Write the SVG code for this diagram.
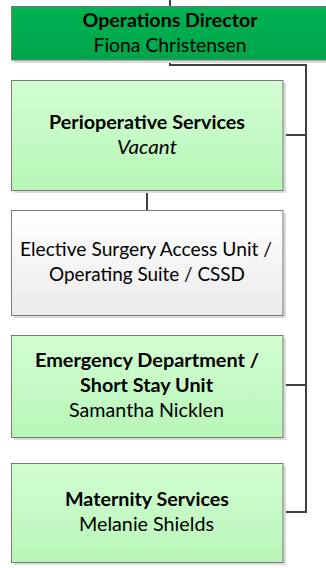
<svg xmlns="http://www.w3.org/2000/svg" width="326" height="568" viewBox="0 0 326 568">
<defs>
<linearGradient id="gTop" x1="0" y1="0" x2="0" y2="1"><stop offset="0" stop-color="#00b352"/><stop offset="1" stop-color="#00a549"/></linearGradient>
<linearGradient id="gLight" x1="0" y1="0" x2="0" y2="1"><stop offset="0" stop-color="#d2fdd2"/><stop offset="1" stop-color="#b8f6b8"/></linearGradient>
<linearGradient id="gGray" x1="0" y1="0" x2="0" y2="1"><stop offset="0" stop-color="#ffffff"/><stop offset="1" stop-color="#ebebeb"/></linearGradient>
</defs>
<style>
.shadow{fill:#dcdcdc}
.box{stroke:#7a7a7a;stroke-width:1}
.t{font-family:Lato,"Liberation Sans",sans-serif;font-size:19.5px;fill:#000;text-anchor:middle}
.b{font-weight:bold}
.i{font-style:italic}
.conn{fill:none;stroke:#404040;stroke-width:2}
</style>
<g id="connectors">
<path class="conn" d="M170,0 V6"/>
<path class="conn" d="M170,60 V65 H306 V512 H283"/>
<path class="conn" d="M283,135 H306"/>
<path class="conn" d="M283,385 H306"/>
<path class="conn" d="M147,190 V210"/>
</g>
<g id="operations-director">
<rect class="shadow" x="14" y="9" width="315" height="54"/>
<rect class="box" x="11.5" y="6.5" width="316" height="53.5" fill="url(#gTop)"/>
<text class="t b" x="170" y="27" textLength="175" lengthAdjust="spacingAndGlyphs">Operations Director</text>
<text class="t" x="170" y="52" textLength="153" lengthAdjust="spacingAndGlyphs">Fiona Christensen</text>
</g>
<g id="perioperative">
<rect class="shadow" x="14" y="83" width="272" height="110"/>
<rect class="box" x="11.5" y="80.5" width="271.5" height="110" fill="url(#gLight)"/>
<text class="t b" x="147" y="129" textLength="196" lengthAdjust="spacingAndGlyphs">Perioperative Services</text>
<text class="t i" x="147" y="154" textLength="60" lengthAdjust="spacingAndGlyphs">Vacant</text>
</g>
<g id="elective">
<rect class="shadow" x="14" y="213" width="272" height="105"/>
<rect class="box" x="11.5" y="210.5" width="271.5" height="105" fill="url(#gGray)"/>
<text class="t" x="146" y="256" textLength="252" lengthAdjust="spacingAndGlyphs">Elective Surgery Access Unit /</text>
<text class="t" x="147" y="281" textLength="196" lengthAdjust="spacingAndGlyphs">Operating Suite / CSSD</text>
</g>
<g id="emergency">
<rect class="shadow" x="14" y="338" width="272" height="102"/>
<rect class="box" x="11.5" y="335.5" width="271.5" height="102" fill="url(#gLight)"/>
<text class="t b" x="147" y="367" textLength="224" lengthAdjust="spacingAndGlyphs">Emergency Department /</text>
<text class="t b" x="146.5" y="392" textLength="133" lengthAdjust="spacingAndGlyphs">Short Stay Unit</text>
<text class="t" x="146.5" y="417" textLength="155" lengthAdjust="spacingAndGlyphs">Samantha Nicklen</text>
</g>
<g id="maternity">
<rect class="shadow" x="14" y="466" width="272" height="99"/>
<rect class="box" x="11.5" y="463.5" width="271.5" height="99" fill="url(#gLight)"/>
<text class="t b" x="147" y="506" textLength="164" lengthAdjust="spacingAndGlyphs">Maternity Services</text>
<text class="t" x="146.5" y="531" textLength="135" lengthAdjust="spacingAndGlyphs">Melanie Shields</text>
</g>
</svg>
